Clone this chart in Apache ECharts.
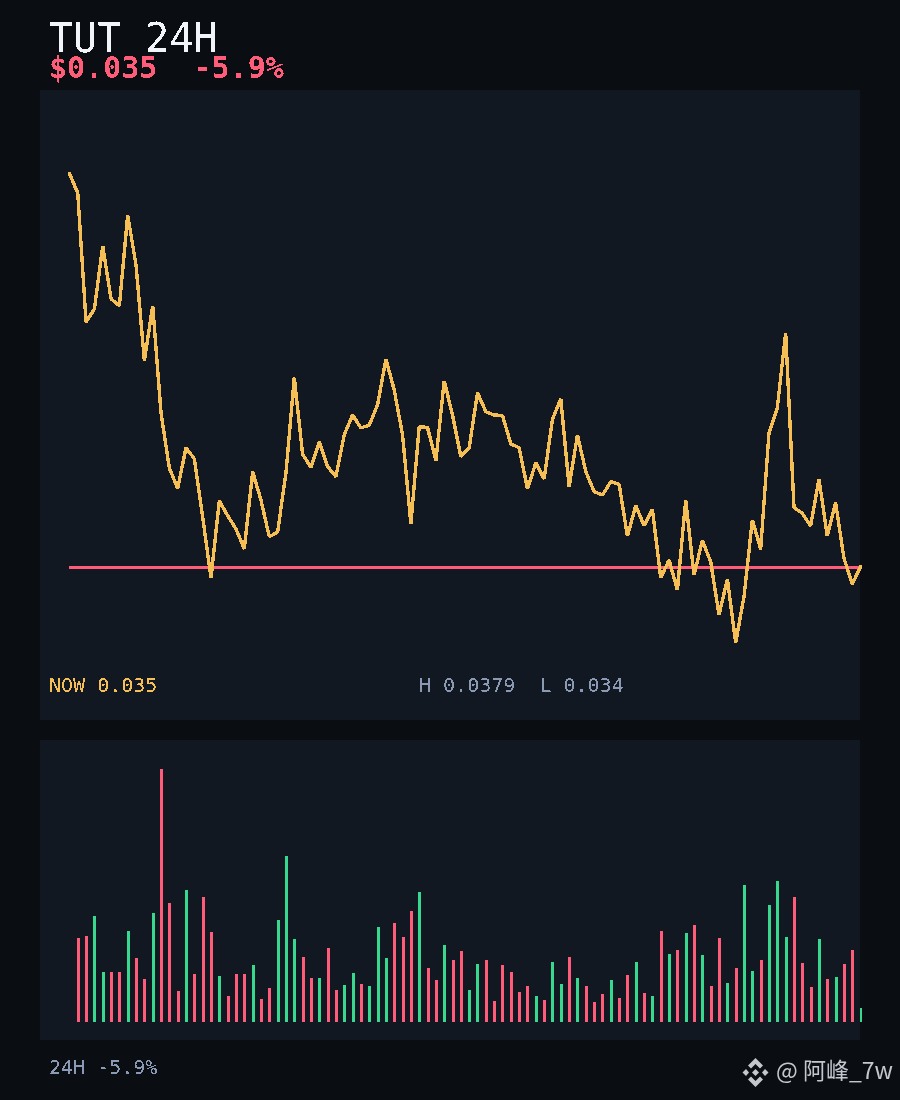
<!DOCTYPE html>
<html><head><meta charset="utf-8">
<style>
html,body{margin:0;padding:0;background:#0a0d12;width:900px;height:1100px;overflow:hidden}
#c{width:900px;height:1100px}
canvas[data-zr-dom-id="zr_1"]{filter:url(#crisp)}
</style>
<script src="https://cdn.jsdelivr.net/npm/echarts@6/dist/echarts.min.js"></script>
</head><body>
<svg width="0" height="0" style="position:absolute"><filter id="crisp" x="0" y="0" width="100%" height="100%" color-interpolation-filters="sRGB"><feComponentTransfer><feFuncA type="discrete" tableValues="0 1"/></feComponentTransfer></filter></svg>
<div id="c"></div>
<script>
const titleText = 'TUT 24H';
const priceText = '$0.035  -5.9%';
const nowText = 'NOW 0.035';
const rangeText = 'H 0.0379  L 0.034';
const footText = '24H -5.9%';
const markText = '@ 阿峰_7w';
const nowPrice = 0.035;
const prices = [
0.037904,0.037760,0.036809,0.036905,0.037369,0.036979,0.036929,0.037598,0.037229,0.036524,0.036929,0.036139,
0.035733,0.035581,0.035883,0.035802,0.035372,0.034923,0.035492,0.035382,0.035284,0.035136,0.035706,0.035497,
0.035227,0.035262,0.035696,0.036399,0.035836,0.035736,0.035927,0.035743,0.035669,0.035977,0.036124,0.036028,
0.036050,0.036198,0.036537,0.036308,0.035977,0.035321,0.036038,0.036032,0.035787,0.036375,0.036124,0.035817,
0.035883,0.036288,0.036148,0.036124,0.036120,0.035910,0.035883,0.035579,0.035772,0.035652,0.036094,0.036242,
0.035595,0.035977,0.035706,0.035559,0.035534,0.035632,0.035615,0.035232,0.035455,0.035308,0.035429,0.034925,
0.035055,0.034834,0.035497,0.034945,0.035198,0.035043,0.034650,0.034915,0.034446,0.034785,0.035350,0.035134,
0.035993,0.036178,0.036730,0.035441,0.035399,0.035306,0.035652,0.035232,0.035478,0.035068,0.034878,0.035006];
const volumes = [
0,84,86,106,50,50,50,91,64,43,109,253,119,31,132,48,125,90,46,26,48,48,57,23,34,102,166,83,65,44,44,74,32,
37,49,38,36,95,64,99,85,111,130,54,42,77,62,71,32,58,62,21,57,50,30,36,26,22,60,38,65,44,36,20,28,
42,24,47,60,29,26,91,68,72,89,97,67,36,84,39,54,137,51,62,117,141,85,125,59,35,83,43,45,58,72,14];
const categories = prices.map((_, i) => i);
const upColor = '#38d98f', downColor = '#ff5c7a', lineColor = '#f6bf55';
const volumeBars = volumes.map((v, i) => ({
  value: v,
  itemStyle: { color: i > 0 && prices[i] > prices[i - 1] ? upColor : downColor }
}));

const chart = echarts.init(document.getElementById('c'), null, { renderer: 'canvas', width: 900, height: 1100 });
const mono = '"DejaVu Sans Mono"';
const txt = (text, left, top, size, color, extra) => ({
  text, left, top, zlevel: 1, padding: 0,
  textStyle: Object.assign({ color, fontFamily: mono, fontSize: size, fontWeight: 'normal' }, extra || {})
});
const logoColor = '#c4c8ce';
const logo = (points) => ({ type: 'polygon', zlevel: 0, z: 5, shape: { points }, style: { fill: logoColor } });
chart.setOption({
  backgroundColor: 'transparent',
  animation: false,
  title: [
    txt(titleText, 49, 22, 40, '#f2f5f9'),
    txt(priceText, 49, 55.5, 30, downColor, { fontWeight: 'bold' }),
    txt(nowText, 49, 677, 20, lineColor),
    txt(rangeText, 419, 677, 20, '#8a9ab5'),
    txt(footText, 49, 1059, 20, '#8a9ab5'),
    { text: markText, left: 776, top: 1059, zlevel: 0, padding: 0,
      textStyle: { color: logoColor, fontFamily: '"Noto Sans CJK SC"', fontSize: 23, fontWeight: 'normal' } }
  ],
  graphic: [
    { type: 'rect', zlevel: 0, z: -10, shape: { x: 40, y: 90, width: 820, height: 630 }, style: { fill: '#111821' } },
    { type: 'rect', zlevel: 0, z: -10, shape: { x: 40, y: 740, width: 820, height: 300 }, style: { fill: '#111821' } },
    logo([[755.5,1058],[763,1065.5],[760,1068.5],[755.5,1064],[751,1068.5],[748,1065.5]]),
    logo([[746,1069],[749,1072.5],[746,1076],[742.5,1072.5]]),
    logo([[765,1069],[768.5,1072.5],[765,1076],[762,1072.5]]),
    logo([[755.5,1069],[759,1072.5],[755.5,1076],[752,1072.5]]),
    logo([[751,1076.5],[755.5,1081],[760,1076.5],[763,1079.5],[755.5,1087],[748,1079.5]])
  ],
  grid: [
    { left: 69.4, width: 791.2, top: 92.6, height: 610.58, containLabel: false },
    { left: 70, width: 791, top: 769, height: 253, containLabel: false }
  ],
  xAxis: [
    { type: 'category', gridIndex: 0, data: categories, boundaryGap: false, show: false },
    { type: 'category', gridIndex: 1, data: categories, boundaryGap: false, show: false }
  ],
  yAxis: [
    { type: 'value', gridIndex: 0, min: 0.034, max: 0.0385, show: false, splitLine: { show: false } },
    { type: 'value', gridIndex: 1, min: 0, max: 253, show: false, splitLine: { show: false } }
  ],
  series: [
    { type: 'line', name: 'now', xAxisIndex: 0, yAxisIndex: 0, zlevel: 1, z: 1, data: prices.map(() => nowPrice),
      showSymbol: false, lineStyle: { color: downColor, width: 3 }, silent: true },
    { type: 'line', name: 'price', xAxisIndex: 0, yAxisIndex: 0, zlevel: 1, z: 2, data: prices,
      showSymbol: false, lineStyle: { color: lineColor, width: 3.4, join: 'bevel', cap: 'round' }, silent: true },
    { type: 'bar', name: 'volume', xAxisIndex: 1, yAxisIndex: 1, zlevel: 1, z: 2, data: volumeBars,
      barWidth: 3, clip: false, silent: true }
  ]
});
</script>
</body></html>
